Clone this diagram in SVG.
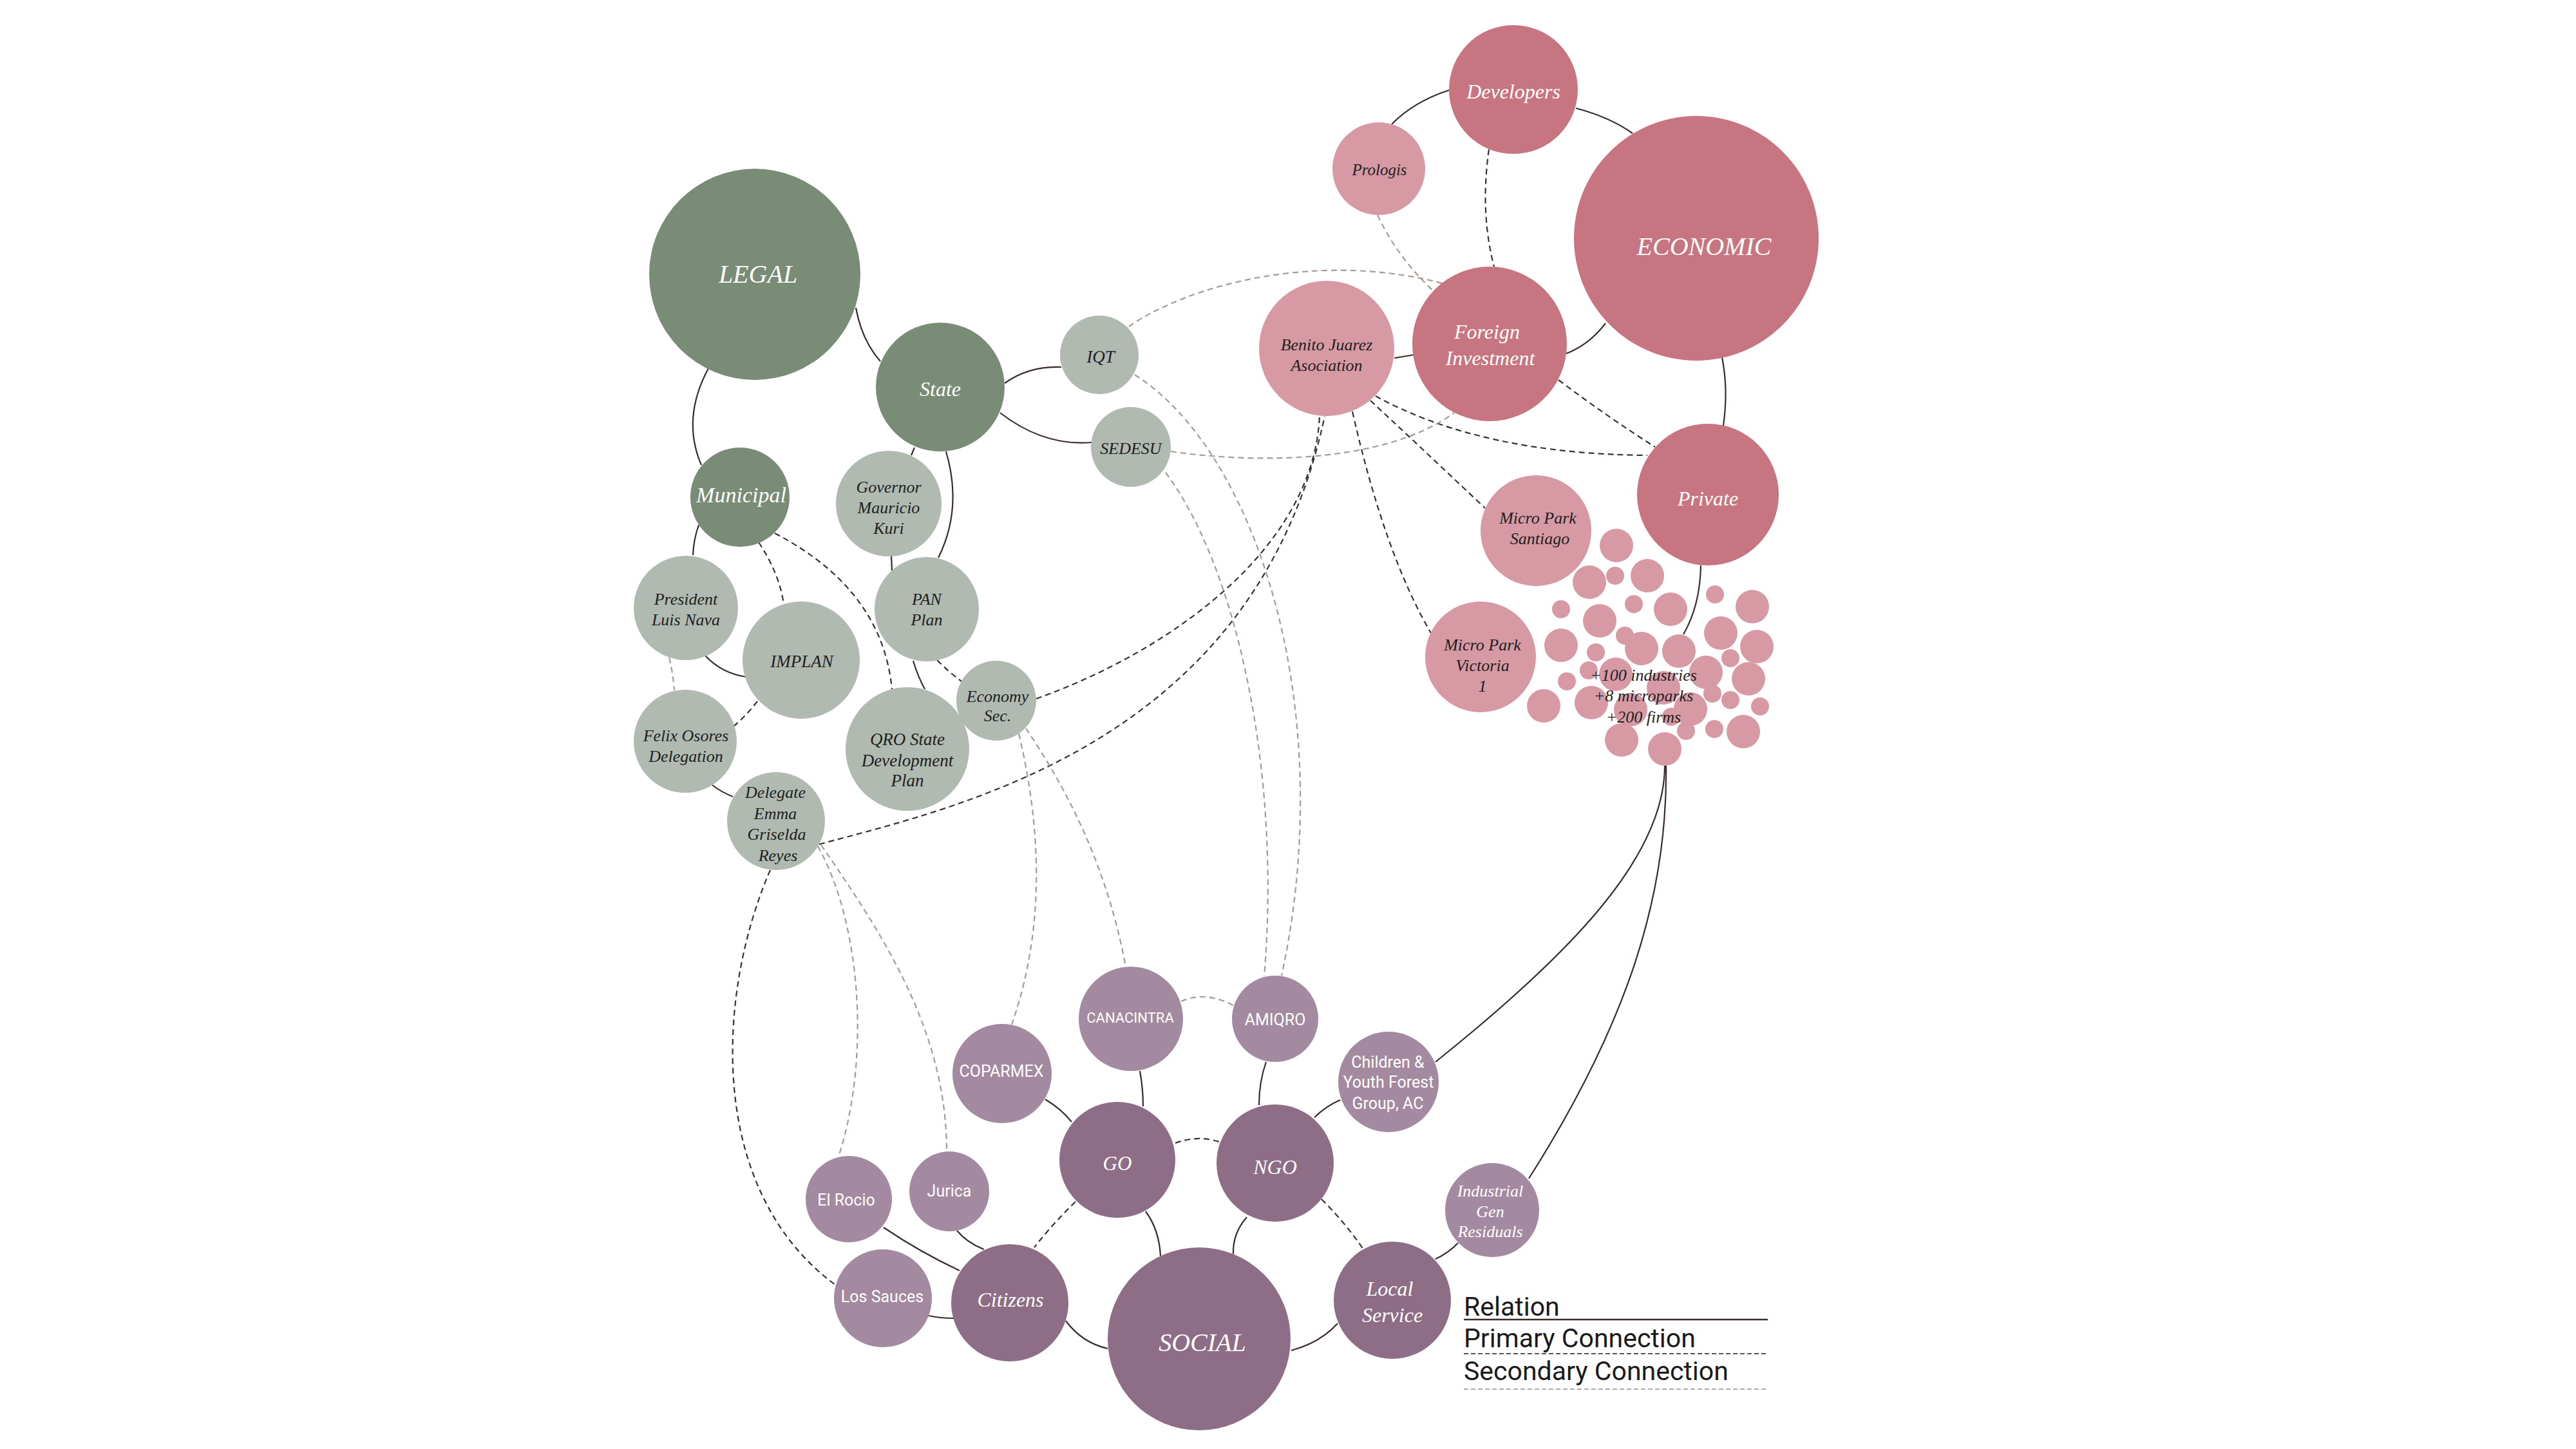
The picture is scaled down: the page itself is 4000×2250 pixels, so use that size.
<svg xmlns="http://www.w3.org/2000/svg" width="4000" height="2250" viewBox="0 0 4000 2250">
<style>
.dg{fill:#788C76}.lg{fill:#B0BAB0}.dp{fill:#C77681}.lp{fill:#D79AA5}.dv{fill:#8E6E87}.lv{fill:#A48AA0}
.s{font-family:"Liberation Serif","Times New Roman",serif;font-style:italic;text-anchor:middle}
.n{font-family:Roboto,"Liberation Sans",sans-serif;text-anchor:middle;fill:#ffffff}
.w{fill:#ffffff}.k{fill:#1e1e1e}
.rel{fill:none;stroke:#3a2b2b;stroke-width:2.2}
.pri{fill:none;stroke:#3a3030;stroke-width:2.2;stroke-dasharray:9 6}
.sec{fill:none;stroke:#a69a94;stroke-width:2.2;stroke-dasharray:9 6}
.lt{font-family:Roboto,"Liberation Sans",sans-serif;font-size:41px;fill:#1a1a1a}
</style>
<rect width="4000" height="2250" fill="#ffffff"/>
<g id="connectors">
<path class="rel" d="M1329,478 Q1338,528 1367,561"/>
<path class="rel" d="M1100,572 Q1058,650 1089,722"/>
<path class="rel" d="M1560,595 Q1598,568 1648,570"/>
<path class="rel" d="M1553,641 Q1620,693 1695,687"/>
<path class="rel" d="M1420,695 L1415,707"/>
<path class="rel" d="M1469,701 Q1495,790 1457,866"/>
<path class="rel" d="M1384,862 L1385,886"/>
<path class="rel" d="M1085,815 Q1077,838 1076,862"/>
<path class="rel" d="M1095,1018 Q1120,1045 1158,1051"/>
<path class="rel" d="M1418,1026 Q1425,1050 1436,1070"/>
<path class="rel" d="M1106,1219 Q1120,1230 1138,1237"/>
<path class="rel" d="M2447,168 Q2500,182 2535,207"/>
<path class="rel" d="M2250,140 Q2195,158 2161,193"/>
<path class="rel" d="M2493,502 Q2468,535 2432,549"/>
<path class="rel" d="M2165,556 L2195,551"/>
<path class="rel" d="M2674,555 Q2684,605 2676,661"/>
<path class="rel" d="M2641,878 Q2640,940 2614,985"/>
<path class="rel" d="M2585,1189 C2585,1330 2440,1480 2229,1649"/>
<path class="rel" d="M2587,1189 C2590,1400 2520,1600 2374,1830"/>
<path class="rel" d="M2229,1955 Q2250,1945 2264,1930"/>
<path class="rel" d="M2041,1735 Q2060,1717 2081,1708"/>
<path class="rel" d="M1966,1649 Q1955,1680 1955,1716"/>
<path class="rel" d="M1936,1890 Q1914,1915 1915,1947"/>
<path class="rel" d="M2005,2097 Q2050,2085 2077,2055"/>
<path class="rel" d="M1770,1663 Q1775,1690 1775,1718"/>
<path class="rel" d="M1623,1707 Q1648,1722 1664,1742"/>
<path class="rel" d="M1779,1881 Q1800,1910 1802,1950"/>
<path class="rel" d="M1655,2051 Q1680,2085 1720,2094"/>
<path class="rel" d="M1486,1911 Q1502,1930 1528,1940"/>
<path class="rel" d="M1372,1906 Q1430,1945 1490,1973"/>
<path class="rel" d="M1442,2043 Q1460,2047 1481,2047"/>
<path class="pri" d="M1178,842 Q1210,890 1217,938"/>
<path class="pri" d="M1203,828 Q1370,915 1385,1070"/>
<path class="pri" d="M1176,1089 Q1160,1110 1139,1128"/>
<path class="pri" d="M1455,1025 Q1475,1045 1493,1058"/>
<path class="pri" d="M1609,1085 C1820,1010 2040,850 2049,646"/>
<path class="pri" d="M1272,1311 C1500,1250 1950,1150 2057,646"/>
<path class="pri" d="M2100,639 Q2150,860 2222,983"/>
<path class="pri" d="M2128,622 Q2215,703 2306,789"/>
<path class="pri" d="M2136,615 Q2300,705 2558,707"/>
<path class="pri" d="M2420,590 Q2500,650 2570,694"/>
<path class="pri" d="M2312,232 Q2298,330 2320,414"/>
<path class="pri" d="M1825,1775 Q1860,1762 1893,1773"/>
<path class="pri" d="M1670,1866 Q1635,1900 1606,1937"/>
<path class="pri" d="M2052,1862 Q2090,1900 2117,1940"/>
<path class="pri" d="M1196,1351 C1110,1550 1100,1850 1297,1995"/>
<path class="sec" d="M1039,1021 Q1045,1045 1047,1072"/>
<path class="sec" d="M1753,507 C1850,440 2050,390 2240,440"/>
<path class="sec" d="M1818,701 C1950,720 2150,720 2258,641"/>
<path class="sec" d="M2139,334 Q2170,400 2226,452"/>
<path class="sec" d="M1762,582 C1950,700 2080,1100 1990,1515"/>
<path class="sec" d="M1810,734 C1920,880 1990,1200 1963,1516"/>
<path class="sec" d="M1834,1555 Q1870,1538 1915,1561"/>
<path class="sec" d="M1593,1131 C1660,1230 1720,1350 1748,1501"/>
<path class="sec" d="M1582,1139 C1620,1300 1620,1450 1571,1591"/>
<path class="sec" d="M1270,1314 C1340,1440 1350,1650 1302,1796"/>
<path class="sec" d="M1275,1312 C1370,1450 1470,1600 1470,1788"/>
</g>
<g id="legal"><circle class="dg" cx="1172" cy="426" r="164"/><text class="s w" x="1177" y="439" font-size="40">LEGAL</text></g>
<g id="state"><circle class="dg" cx="1460" cy="601" r="100"/><text class="s w" x="1460" y="615" font-size="32">State</text></g>
<g id="municipal"><circle class="dg" cx="1149" cy="772" r="77"/><text class="s w" x="1151" y="780" font-size="34">Municipal</text></g>
<g id="iqt"><circle class="lg" cx="1707" cy="551" r="61"/><text class="s k" x="1709" y="563" font-size="27">IQT</text></g>
<g id="sedesu"><circle class="lg" cx="1756" cy="694" r="62"/><text class="s k" x="1756" y="705" font-size="26">SEDESU</text></g>
<g id="governor"><circle class="lg" cx="1380" cy="782" r="82"/><text class="s k" font-size="26"><tspan x="1380" y="765">Governor</tspan><tspan x="1380" y="797">Mauricio</tspan><tspan x="1380" y="829">Kuri</tspan></text></g>
<g id="president"><circle class="lg" cx="1065" cy="944" r="81"/><text class="s k" font-size="26"><tspan x="1065" y="939">President</tspan><tspan x="1065" y="971">Luis Nava</tspan></text></g>
<g id="implan"><circle class="lg" cx="1244" cy="1025" r="91"/><text class="s k" x="1245" y="1036" font-size="27">IMPLAN</text></g>
<g id="pan"><circle class="lg" cx="1439" cy="946" r="81"/><text class="s k" font-size="26"><tspan x="1439" y="939">PAN</tspan><tspan x="1439" y="971">Plan</tspan></text></g>
<g id="economy"><circle class="lg" cx="1547" cy="1088" r="62"/><text class="s k" font-size="26"><tspan x="1549" y="1090">Economy</tspan><tspan x="1549" y="1120">Sec.</tspan></text></g>
<g id="felix"><circle class="lg" cx="1064" cy="1151" r="80"/><text class="s k" font-size="26"><tspan x="1065" y="1151">Felix Osores</tspan><tspan x="1065" y="1183">Delegation</tspan></text></g>
<g id="qro"><circle class="lg" cx="1409" cy="1163" r="96"/><text class="s k" font-size="27"><tspan x="1409" y="1157">QRO State</tspan><tspan x="1409" y="1190">Development</tspan><tspan x="1409" y="1221">Plan</tspan></text></g>
<g id="delegate"><circle class="lg" cx="1205" cy="1275" r="76"/><text class="s k" font-size="26"><tspan x="1204" y="1239">Delegate</tspan><tspan x="1204" y="1272">Emma</tspan><tspan x="1206" y="1304">Griselda</tspan><tspan x="1208" y="1337">Reyes</tspan></text></g>
<g id="developers"><circle class="dp" cx="2350" cy="139" r="100"/><text class="s w" x="2350" y="153" font-size="32">Developers</text></g>
<g id="prologis"><circle class="lp" cx="2141" cy="262" r="72"/><text class="s k" x="2142" y="272" font-size="25">Prologis</text></g>
<g id="economic"><circle class="dp" cx="2634" cy="370" r="190"/><text class="s w" x="2646" y="396" font-size="40">ECONOMIC</text></g>
<g id="foreign"><circle class="dp" cx="2313" cy="534" r="120"/><text class="s w" font-size="32"><tspan x="2309" y="526">Foreign</tspan><tspan x="2314" y="567">Investment</tspan></text></g>
<g id="benito"><circle class="lp" cx="2060" cy="541" r="105"/><text class="s k" font-size="26"><tspan x="2060" y="544">Benito Juarez</tspan><tspan x="2060" y="576">Asociation</tspan></text></g>
<g id="private"><circle class="dp" cx="2652" cy="768" r="110"/><text class="s w" x="2652" y="785" font-size="32">Private</text></g>
<g id="santiago"><circle class="lp" cx="2385" cy="824" r="86"/><text class="s k" font-size="26"><tspan x="2388" y="813">Micro Park</tspan><tspan x="2391" y="845">Santiago</tspan></text></g>
<g id="victoria"><circle class="lp" cx="2299" cy="1020" r="86"/><text class="s k" font-size="26"><tspan x="2302" y="1010">Micro Park</tspan><tspan x="2302" y="1042">Victoria</tspan><tspan x="2302" y="1074">1</tspan></text></g>
<g id="cluster" class="lp">
<circle cx="2510" cy="847" r="26"/><circle cx="2468" cy="904" r="26"/><circle cx="2508" cy="894" r="14"/><circle cx="2558" cy="894" r="26"/>
<circle cx="2424" cy="946" r="14"/><circle cx="2484" cy="964" r="26"/><circle cx="2537" cy="938" r="14"/><circle cx="2594" cy="946" r="26"/>
<circle cx="2663" cy="923" r="14"/><circle cx="2721" cy="942" r="26"/><circle cx="2424" cy="1002" r="26"/><circle cx="2478" cy="1013" r="14"/>
<circle cx="2523" cy="987" r="14"/><circle cx="2549" cy="1007" r="26"/><circle cx="2607" cy="1011" r="26"/><circle cx="2672" cy="983" r="26"/>
<circle cx="2728" cy="1004" r="26"/><circle cx="2687" cy="1022" r="14"/><circle cx="2467" cy="1041" r="14"/><circle cx="2509" cy="1047" r="26"/>
<circle cx="2433" cy="1058" r="14"/><circle cx="2649" cy="1044" r="26"/><circle cx="2715" cy="1054" r="26"/><circle cx="2583" cy="1068" r="26"/>
<circle cx="2659" cy="1077" r="14"/><circle cx="2687" cy="1087" r="14"/><circle cx="2397" cy="1096" r="26"/><circle cx="2471" cy="1091" r="26"/>
<circle cx="2532" cy="1102" r="26"/><circle cx="2625" cy="1101" r="26"/><circle cx="2595" cy="1113" r="14"/><circle cx="2618" cy="1135" r="14"/>
<circle cx="2733" cy="1097" r="14"/><circle cx="2662" cy="1132" r="14"/><circle cx="2707" cy="1136" r="26"/><circle cx="2518" cy="1149" r="26"/>
<circle cx="2585" cy="1163" r="26"/>
<text class="s k" font-size="26"><tspan x="2552" y="1057">+100 industries</tspan><tspan x="2552" y="1089">+8 microparks</tspan><tspan x="2552" y="1122">+200 firms</tspan></text>
</g>
<g id="coparmex"><circle class="lv" cx="1556" cy="1667" r="77"/><text class="n" x="1555" y="1672" font-size="25">COPARMEX</text></g>
<g id="canacintra"><circle class="lv" cx="1756" cy="1582" r="81"/><text class="n" x="1755" y="1588" font-size="22">CANACINTRA</text></g>
<g id="amiqro"><circle class="lv" cx="1980" cy="1582" r="67"/><text class="n" x="1980" y="1592" font-size="25">AMIQRO</text></g>
<g id="go"><circle class="dv" cx="1735" cy="1801" r="90"/><text class="s w" x="1735" y="1817" font-size="31">GO</text></g>
<g id="ngo"><circle class="dv" cx="1980" cy="1806" r="91"/><text class="s w" x="1980" y="1823" font-size="32">NGO</text></g>
<g id="elrocio"><circle class="lv" cx="1318" cy="1862" r="67"/><text class="n" x="1314" y="1872" font-size="25">El Rocio</text></g>
<g id="jurica"><circle class="lv" cx="1474" cy="1850" r="62"/><text class="n" x="1474" y="1858" font-size="25">Jurica</text></g>
<g id="lossauces"><circle class="lv" cx="1371" cy="2016" r="76"/><text class="n" x="1370" y="2022" font-size="25">Los Sauces</text></g>
<g id="citizens"><circle class="dv" cx="1568" cy="2023" r="91"/><text class="s w" x="1569" y="2029" font-size="32">Citizens</text></g>
<g id="social"><circle class="dv" cx="1862" cy="2079" r="142"/><text class="s w" x="1867" y="2098" font-size="40">SOCIAL</text></g>
<g id="children"><circle class="lv" cx="2156" cy="1680" r="78"/><text class="n" font-size="25"><tspan x="2155" y="1658">Children &amp;</tspan><tspan x="2156" y="1689">Youth Forest</tspan><tspan x="2155" y="1722">Group, AC</tspan></text></g>
<g id="industrial"><circle class="lv" cx="2317" cy="1879" r="73"/><text class="s w" font-size="26"><tspan x="2314" y="1858">Industrial</tspan><tspan x="2314" y="1890">Gen</tspan><tspan x="2314" y="1921">Residuals</tspan></text></g>
<g id="localservice"><circle class="dv" cx="2162" cy="2019" r="91"/><text class="s w" font-size="32"><tspan x="2158" y="2012">Local</tspan><tspan x="2162" y="2053">Service</tspan></text></g>
<g id="legend">
<text class="lt" x="2273" y="2043">Relation</text>
<line x1="2273" y1="2049" x2="2745" y2="2049" stroke="#3a2b2b" stroke-width="2.5"/>
<text class="lt" x="2273" y="2092">Primary Connection</text>
<line x1="2273" y1="2102" x2="2745" y2="2102" stroke="#555" stroke-width="2" stroke-dasharray="7 4"/>
<text class="lt" x="2273" y="2143">Secondary Connection</text>
<line x1="2273" y1="2157" x2="2745" y2="2157" stroke="#aaa" stroke-width="2" stroke-dasharray="7 4"/>
</g>
</svg>
